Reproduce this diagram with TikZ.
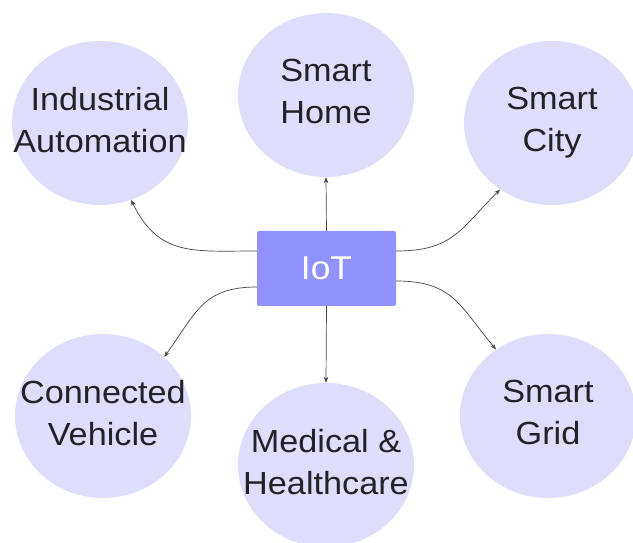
\documentclass[tikz,border=0pt]{standalone}
\usepackage{fontspec}
\setmainfont{Liberation Sans}[FakeStretch=1.07]
\usetikzlibrary{shapes.geometric,arrows.meta}
\definecolor{bub}{RGB}{222,222,252}
\definecolor{iotc}{RGB}{146,146,255}
\definecolor{txt}{RGB}{34,34,40}
\definecolor{lnc}{RGB}{70,70,70}
\begin{document}
\begin{tikzpicture}[x=1pt,y=1pt,
  bubble/.style={ellipse, fill=bub, minimum width=176pt, minimum height=164pt, inner xsep=-40pt, inner ysep=0pt, align=center, text=txt, text depth=7pt, font=\fontsize{32}{42}\selectfont},
  hub/.style={rectangle, rounded corners=2pt, fill=iotc, minimum width=139pt, minimum height=75pt, inner sep=0pt, text=white, font=\fontsize{33}{40}\selectfont},
  link/.style={draw=lnc, line width=0.7pt, -{Stealth[length=6pt,width=4.5pt]}}]
\useasboundingbox (0,0) rectangle (633,542);
\clip (0,0) rectangle (633,542);
\fill[white] (0,0) rectangle (633,542);
\node[bubble] (ia) at (100,419) {Industrial\\Automation};
\node[bubble] (sh) at (326,447) {Smart\\Home};
\node[bubble] (sc) at (552,419) {Smart\\City};
\node[bubble] (cv) at (103,126) {Connected\\Vehicle};
\node[bubble] (mh) at (326,77) {Medical \&\\Healthcare};
\node[bubble] (sg) at (548,126) {Smart\\Grid};
\node[hub] (iot) at (326.5,273.5) {IoT};
\draw[link] (iot.north) -- (sh.south);
\draw[link] (iot.south) -- (mh.north);
\draw[link] ([yshift=17.5pt]iot.west) to[out=180,in=-64,looseness=1.2] (ia.-68);
\draw[link] ([yshift=17.5pt]iot.east) to[out=0,in=225,looseness=1.2] (sc.-128);
\draw[link] ([yshift=-18.5pt]iot.west) to[out=180,in=54,looseness=1.2] (cv.44);
\draw[link] ([yshift=-12.5pt]iot.east) to[out=0,in=130,looseness=1.2] (sg.128);
\end{tikzpicture}
\end{document}
